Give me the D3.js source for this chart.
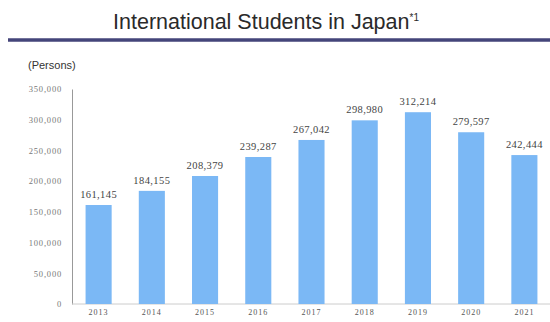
<!DOCTYPE html>
<html>
<head>
<meta charset="utf-8">
<title>International Students in Japan</title>
<style>
  body { margin: 0; background: #fff; }
  svg { display: block; font-family: "Liberation Sans", Arial, sans-serif; }
</style>
</head>
<body>
<div id="chart"></div>
<script src="https://cdn.jsdelivr.net/npm/d3@7"></script>
<script>
// data
var years = ['2013', '2014', '2015', '2016', '2017', '2018', '2019', '2020', '2021'];
var students = [161145, 184155, 208379, 239287, 267042, 298980, 312214, 279597, 242444];
var yTicks = [0, 50000, 100000, 150000, 200000, 250000, 300000, 350000];

var width = 550, height = 322;
// note: "top" is a reserved window prop, so use a plain object
var plot = { left: 72, right: 551, top: 89, bottom: 304 };

var svg = d3.select('#chart')
  .append('svg')
  .attr('width', width)
  .attr('height', height);

// title + rule
var title = svg.append('text')
  .attr('x', 266)
  .attr('y', 29)
  .attr('text-anchor', 'middle')
  .style('font-size', '21.5px')
  .style('fill', '#2a2a2a');
title.append('tspan').text('International Students in Japan');
title.append('tspan')
  .attr('dy', -8)
  .style('font-size', '10px')
  .text('*1');

svg.append('line')
  .attr('x1', 8).attr('x2', 550)
  .attr('y1', 40).attr('y2', 40)
  .attr('stroke', '#44457a')
  .attr('stroke-width', 3.5);

svg.append('text')
  .attr('x', 28)
  .attr('y', 69)
  .style('font-size', '11px')
  .style('fill', '#333')
  .text('(Persons)');

var x = d3.scaleBand()
  .domain(years)
  .range([plot.left, plot.right])
  .paddingInner(0.51)
  .paddingOuter(0.255);

var y = d3.scaleLinear()
  .domain([0, 350000])
  .range([plot.bottom, plot.top]);

// y axis
var yAxis = svg.append('g')
  .attr('transform', 'translate(' + plot.left + ',0)')
  .call(d3.axisLeft(y).tickValues(yTicks).tickSize(0).tickPadding(10)
    .tickFormat(d3.format(',')));
yAxis.select('.domain').attr('stroke', '#999');
yAxis.selectAll('text').style('font-size', '8.5px').style('fill', '#777')
  .style('letter-spacing', '0.8px')
  .style('font-family', '"Liberation Serif", serif');

// x axis
var xAxis = svg.append('g')
  .attr('transform', 'translate(0,' + plot.bottom + ')')
  .call(d3.axisBottom(x).tickSize(0).tickPadding(5));
xAxis.select('.domain').attr('stroke', '#ccc').attr('d', 'M' + plot.left + ',0H' + plot.right);
xAxis.selectAll('text').style('font-size', '8px').style('fill', '#555')
  .style('letter-spacing', '1px')
  .style('font-family', '"Liberation Serif", serif');

// bars
svg.selectAll('.bar')
  .data(students)
  .enter().append('rect')
  .attr('class', 'bar')
  .attr('x', (d, i) => x(years[i]))
  .attr('width', x.bandwidth())
  .attr('y', d => y(d))
  .attr('height', d => plot.bottom - y(d))
  .attr('fill', '#7bb8f5');

// value labels
svg.selectAll('.val')
  .data(students)
  .enter().append('text')
  .attr('class', 'val')
  .attr('x', (d, i) => x(years[i]) + x.bandwidth() / 2)
  .attr('y', d => y(d) - 7)
  .attr('text-anchor', 'middle')
  .style('font-size', '10.5px')
  .style('fill', '#444')
  .style('letter-spacing', '0.4px')
  .style('font-family', '"Liberation Serif", serif')
  .text(d3.format(','));
</script>
</body>
</html>
